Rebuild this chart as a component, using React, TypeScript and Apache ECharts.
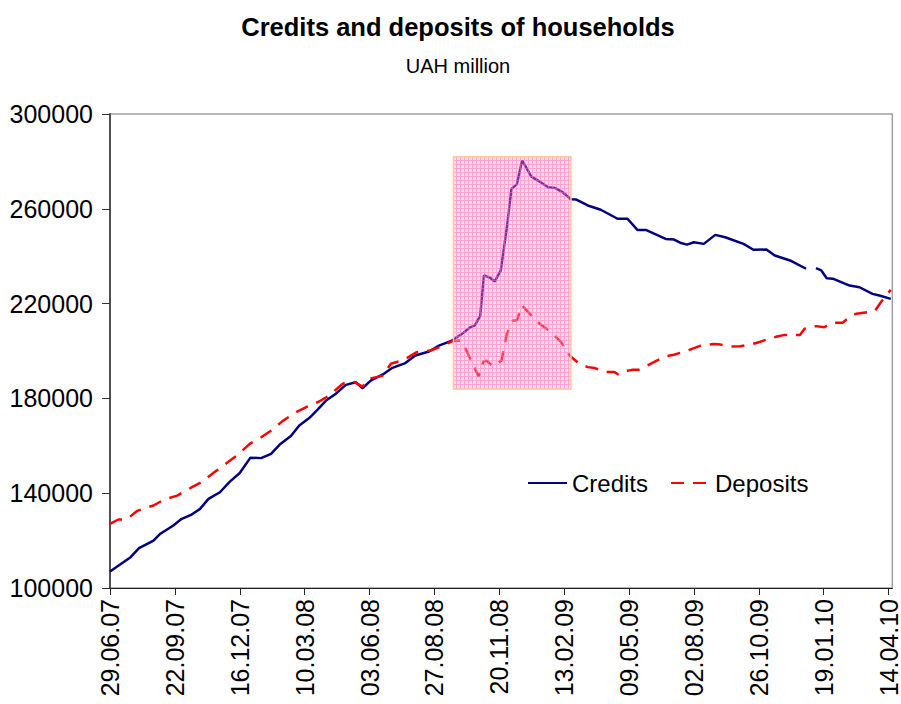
import React, { useEffect, useRef } from "react";
import * as echarts from "echarts";

// x positions are days counted from 29.06.07
const START_DATE = Date.UTC(2007, 5, 29);
const tickDays = 85;
const xMaxDays = 1025;

const creditDays = [0, 27, 38, 57, 66, 83, 94, 107, 118, 129, 144, 157, 170, 184, 198, 211, 222, 237, 248, 261, 272, 283, 296, 309, 322, 331, 342, 357, 370, 387, 400, 418, 431, 448, 461, 472, 478, 485, 490, 498, 504, 512, 520, 526, 533, 540, 552, 561, 574, 583, 593, 604, 611, 626, 643, 665, 678, 691, 702, 728, 739, 747, 756, 765, 778, 793, 806, 830, 843, 860, 871, 891, 912, 917, 925, 932, 939, 947, 969, 982, 999, 1008, 1023];
const credits: (number | null)[] = [107000, 113000, 116800, 120000, 122900, 126400, 129200, 131000, 133400, 137600, 140400, 144900, 148500, 155000, 154800, 156600, 160400, 164100, 168600, 171700, 175300, 179100, 182000, 185700, 186800, 184300, 187600, 190000, 192900, 194900, 198100, 199800, 202300, 204400, 207200, 210000, 210800, 214800, 231900, 230900, 229300, 234000, 252200, 268400, 270300, 280400, 273600, 271900, 269100, 268800, 267000, 264000, 263900, 261400, 259600, 255800, 255800, 251100, 251100, 247300, 247000, 245700, 244900, 245900, 245200, 249000, 248000, 245200, 242700, 242800, 240300, 238200, 234700, null, 235000, 234000, 230700, 230500, 227600, 226900, 224100, 223400, 222000];

const depositDays = [0, 11, 22, 35, 46, 57, 70, 88, 105, 120, 137, 153, 168, 183, 198, 213, 226, 244, 259, 274, 287, 305, 318, 331, 339, 357, 368, 385, 402, 420, 437, 448, 457, 461, 467, 474, 483, 489, 493, 502, 513, 520, 528, 533, 540, 550, 563, 578, 591, 602, 615, 626, 635, 650, 661, 666, 669, 685, 693, 704, 717, 728, 739, 754, 774, 791, 800, 811, 826, 837, 847, 863, 874, 884, 904, 910, 925, 936, 945, 960, 971, 978, 993, 1002, 1010, 1023];
const deposits = [127100, 128900, 129000, 132400, 133800, 134800, 137200, 139000, 142100, 144700, 148900, 152700, 156400, 160800, 163600, 166800, 170400, 174200, 176600, 178700, 181200, 186200, 187200, 185000, 188300, 189500, 194600, 196300, 199500, 200200, 202300, 204100, 204400, 204100, 200200, 195300, 189300, 195300, 196000, 193500, 196000, 207300, 212900, 212900, 219200, 215700, 211500, 207900, 203700, 198100, 194600, 193200, 192800, 191100, 191100, 190100, 191100, 192100, 192100, 193900, 196000, 197800, 198400, 199900, 202300, 203000, 202700, 201900, 202000, 202700, 203400, 205100, 206100, 206800, 206800, 209400, 210500, 210000, 211900, 211900, 215000, 215700, 216400, 216800, 220600, 225800];

const highlightDays = [450, 604];
const highlightValues = [184000, 282000];

const yTicks = { min: 100000, max: 300000, step: 40000 };

function fmtDay(v: number): string {
  const k = v / tickDays;
  if (Math.abs(k - Math.round(k)) > 1e-6) return "";
  const d = new Date(START_DATE + Math.round(v) * 86400000);
  const p = (n: number) => (n < 10 ? "0" + n : "" + n);
  return p(d.getUTCDate()) + "." + p(d.getUTCMonth() + 1) + "." + p(d.getUTCFullYear() % 100);
}

function makePattern() {
  const c = document.createElement("canvas");
  c.width = 4;
  c.height = 4;
  const ctx = c.getContext("2d");
  if (ctx) {
    ctx.fillStyle = "rgba(255,165,212,0.38)";
    ctx.fillRect(0, 0, 4, 4);
    ctx.fillStyle = "rgba(245,110,180,0.5)";
    ctx.fillRect(0, 0, 4, 1);
    ctx.fillRect(0, 1, 1, 3);
  }
  return { image: c, repeat: "repeat", imageWidth: 4, imageHeight: 4 };
}

export default function App() {
  const ref = useRef<HTMLDivElement>(null);
  useEffect(() => {
    if (!ref.current) return;
    const chart = echarts.init(ref.current, null, { renderer: "svg" });
    const font = "Arial, 'Liberation Sans', sans-serif";
    chart.setOption({
      animation: false,
      backgroundColor: "#ffffff",
      textStyle: { fontFamily: font },
      graphic: [
        { type: "text", x: 458, y: 27, style: { text: "Credits and deposits of households", font: "bold 25.5px " + font, fill: "#000", textAlign: "center", textVerticalAlign: "middle" } },
        { type: "text", x: 458, y: 66, style: { text: "UAH million", font: "20px " + font, fill: "#000", textAlign: "center", textVerticalAlign: "middle" } },
      ],
      grid: { left: 110, right: 5, top: 114, bottom: 116, show: true, borderColor: "#a0a0a0", borderWidth: 1.5, backgroundColor: "transparent" },
      legend: {
        data: ["Credits", "Deposits"],
        left: 527,
        top: 471,
        padding: 0,
        itemWidth: 39,
        itemHeight: 14,
        itemGap: 22,
        itemStyle: { opacity: 0 },
        textStyle: { fontSize: 24, color: "#000", fontFamily: font },
      },
      xAxis: {
        type: "value",
        min: 0,
        max: xMaxDays,
        interval: tickDays,
        splitLine: { show: false },
        axisLine: { lineStyle: { color: "#222", width: 1.2 } },
        axisTick: { length: 7, lineStyle: { color: "#222" } },
        axisLabel: { rotate: 90, margin: 11, fontSize: 25, color: "#000", fontFamily: font, formatter: fmtDay, showMaxLabel: false },
      },
      yAxis: {
        type: "value",
        min: yTicks.min,
        max: yTicks.max,
        interval: yTicks.step,
        splitLine: { show: false },
        axisLine: { show: true, lineStyle: { color: "#505050", width: 2 } },
        axisTick: { show: true, length: 8, lineStyle: { color: "#333" } },
        axisLabel: { margin: 17, fontSize: 25, color: "#000", fontFamily: font, formatter: (v: number) => String(v) },
      },
      series: [
        {
          name: "Credits",
          type: "line",
          symbol: "none",
          connectNulls: false,
          lineStyle: { color: "#000080", width: 2.5 },
          itemStyle: { color: "#000080" },
          data: creditDays.map((d, i) => [d, credits[i] == null ? "-" : credits[i]]),
        },
        {
          name: "Deposits",
          type: "line",
          symbol: "none",
          lineStyle: { color: "#ff0000", width: 2.5, type: [13, 9] },
          itemStyle: { color: "#ff0000" },
          data: depositDays.map((d, i) => [d, deposits[i]]),
        },
        {
          name: "highlight",
          type: "line",
          data: [],
          z: 5,
          markArea: {
            silent: true,
            z: 10,
            itemStyle: { color: makePattern(), borderColor: "#ffc8a0", borderWidth: 1.5 },
            data: [[{ coord: [highlightDays[0], highlightValues[1]] }, { coord: [highlightDays[1], highlightValues[0]] }]],
          },
        },
      ],
    });
    return () => chart.dispose();
  }, []);
  return <div ref={ref} style={{ position: "fixed", left: 0, top: 0, width: 901, height: 704 }} />;
}
